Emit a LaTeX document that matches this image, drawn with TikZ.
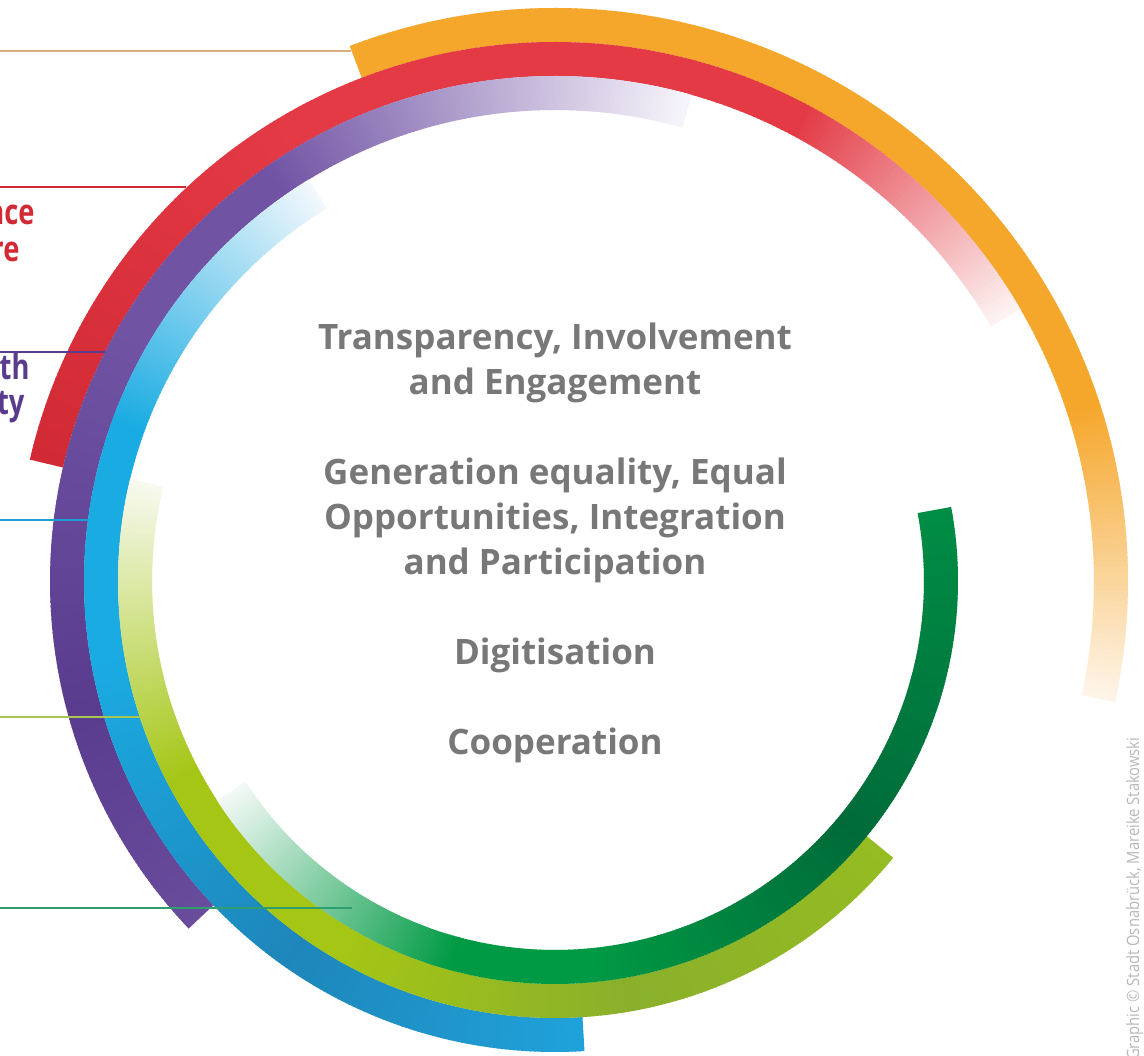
\documentclass[tikz,border=0pt]{standalone}
\usepackage{fontspec}
\setmainfont{Open Sans}
\newfontfamily\narrowfont[FakeStretch=0.78]{Open Sans}
\newfontfamily\creditfont[FakeStretch=0.87]{Open Sans}
\usepackage{tikz}
\usetikzlibrary{positioning, calc}
\definecolor{orng}{HTML}{F5A72B}
\definecolor{orngF}{HTML}{FEF5EA}
\definecolor{redA}{HTML}{D22A35}
\definecolor{redB}{HTML}{E33A45}
\definecolor{redF}{HTML}{FDF3F2}
\definecolor{purA}{HTML}{5A3C8F}
\definecolor{purB}{HTML}{7153A4}
\definecolor{purC}{HTML}{6A4C9D}
\definecolor{purF}{HTML}{F7F5FB}
\definecolor{bluA}{HTML}{1AABE2}
\definecolor{bluB}{HTML}{1E86BA}
\definecolor{bluC}{HTML}{1FA2DA}
\definecolor{bluF}{HTML}{F3F9FD}
\definecolor{ygA}{HTML}{A5C615}
\definecolor{ygB}{HTML}{8AB02B}
\definecolor{ygC}{HTML}{95BC22}
\definecolor{ygF}{HTML}{F8FAF0}
\definecolor{grnA}{HTML}{009A44}
\definecolor{grnB}{HTML}{006B39}
\definecolor{grnC}{HTML}{008D45}
\definecolor{grnF}{HTML}{F4FAF6}
\definecolor{lineTan}{HTML}{D8AE7C}
\definecolor{lineBlue}{HTML}{1C9FD6}
\definecolor{lineYg}{HTML}{A9C450}
\definecolor{lineGrn}{HTML}{2E9E6E}
\definecolor{goalgray}{HTML}{787878}
\definecolor{creditgray}{HTML}{B8B8B8}
\tikzstyle{ring} = [line width=34pt]
\tikzstyle{leader} = [line width=1.8pt]
\tikzstyle{goal} = [anchor=base, text=goalgray, font=\fontsize{35}{45}\selectfont\bfseries]
\tikzstyle{tag} = [anchor=base east, font=\narrowfont\fontsize{35}{40}\selectfont\bfseries]
\newcommand{\ringarc}[5]{%
  \pgfmathtruncatemacro{\nseg}{max(1,round(2*abs(#3-#2)))}%
  \pgfmathsetmacro{\stp}{(#3-#2)/\nseg}%
  \foreach \i in {1,...,\nseg}{%
    \pgfmathsetmacro{\angA}{#2+\stp*(\i-1)}%
    \pgfmathsetmacro{\angB}{#2+\stp*(\i+0.4)}%
    \pgfmathsetmacro{\pc}{(\i-0.5)/\nseg*100}%
    \draw[ring, draw=#5!\pc!#4] ($(ctr)+(\angA:#1)$) arc[start angle=\angA, end angle=\angB, radius=#1];
  }%
}

\begin{document}
\begin{tikzpicture}[x=1pt, y=1pt]
\useasboundingbox (0,0) rectangle (1144,1056);
\fill[white] (0,0) rectangle (1144,1056);
\coordinate (ctr) at (555,475);

\ringarc{556}{111}{18}{orng}{orng}
\ringarc{556}{18}{-12}{orng}{orngF}

\ringarc{522}{167}{120}{redA}{redB}
\ringarc{522}{120}{62}{redB}{redB}
\ringarc{522}{62}{30.5}{redB}{redF}

\ringarc{488}{223.5}{195}{purC}{purA}
\ringarc{488}{195}{150}{purA}{purB}
\ringarc{488}{150}{125}{purB}{purB}
\ringarc{488}{125}{74.5}{purB}{purF}

\ringarc{454}{121.5}{160}{bluF}{bluA}
\ringarc{454}{160}{190}{bluA}{bluA}
\ringarc{454}{190}{235}{bluA}{bluB}
\ringarc{454}{235}{273.4}{bluB}{bluC}

\ringarc{420}{166.5}{208}{ygF}{ygA}
\ringarc{420}{208}{240}{ygA}{ygA}
\ringarc{420}{240}{280}{ygA}{ygB}
\ringarc{420}{280}{320.5}{ygB}{ygC}

\ringarc{386}{213}{255}{grnF}{grnA}
\ringarc{386}{255}{275}{grnA}{grnA}
\ringarc{386}{275}{320}{grnA}{grnB}
\ringarc{386}{320}{370.4}{grnB}{grnC}

\coordinate (orangeL) at (0,1005);
\coordinate (orangeR) at (351,1005);
\coordinate (redL) at (0,869);
\coordinate (redR) at (186,869);
\coordinate (purpleL) at (0,704);
\coordinate (purpleR) at (105,704);
\coordinate (blueL) at (0,536);
\coordinate (blueR) at (88,536);
\coordinate (ygL) at (0,339);
\coordinate (ygR) at (140,339);
\coordinate (greenL) at (0,148);
\coordinate (greenR) at (352,148);
\draw[leader, lineTan] (orangeL) -- (orangeR);
\draw[leader, redA] (redL) -- (redR);
\draw[leader, purA] (purpleL) -- (purpleR);
\draw[leader, lineBlue] (blueL) -- (blueR);
\draw[leader, lineYg] (ygL) -- (ygR);
\draw[leader, lineGrn] (greenL) -- (greenR);

\node[tag, text=redA] (ace) at (38,831) {ace};
\node[tag, text=redA] (re) at (23,794) {re};
\node[tag, text=purA] (th) at (33,676) {th};
\node[tag, text=purA] (ty) at (28,641) {ty};

\node[goal] (transp) at (555,706) {Transparency, Involvement};
\node[goal] (engage) at (555,661) {and Engagement};
\node[goal] (gener) at (555,571) {Generation equality, Equal};
\node[goal] (opport) at (555,526) {Opportunities, Integration};
\node[goal] (partic) at (555,481) {and Participation};
\node[goal] (digit) at (555,391) {Digitisation};
\node[goal] (coop) at (555,301) {Cooperation};

\node[rotate=90, anchor=base east, text=creditgray, font=\creditfont\fontsize{17}{20}\selectfont] (credit) at (1139,322) {Graphic © Stadt Osnabrück, Mareike Stakowski};
\end{tikzpicture}
\end{document}
